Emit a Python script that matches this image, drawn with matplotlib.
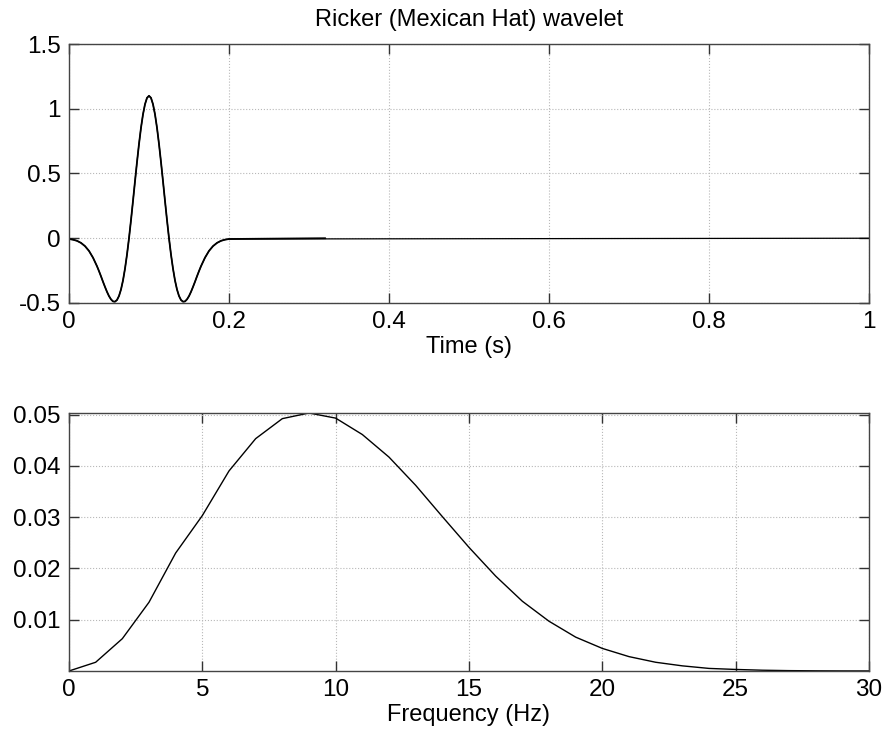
import matplotlib
matplotlib.use("Agg")
import matplotlib.pyplot as plt

plt.rcParams['font.family'] = ['Liberation Sans', 'DejaVu Sans']

# wavelet samples (time in s, amplitude)
wavelet_t = [0.000, 0.005, 0.010, 0.015, 0.020, 0.025, 0.030, 0.035,
             0.0375, 0.040, 0.0425, 0.045, 0.0475, 0.050, 0.0525, 0.055,
             0.0575, 0.060, 0.0625, 0.065, 0.0675, 0.070, 0.0725, 0.075,
             0.0775, 0.080, 0.0825, 0.085, 0.0875, 0.090, 0.0925, 0.095,
             0.0975, 0.100, 0.1025, 0.105, 0.1075, 0.110, 0.1125, 0.115,
             0.1175, 0.120, 0.1225, 0.125, 0.1275, 0.130, 0.1325, 0.135,
             0.1375, 0.140, 0.1425, 0.145, 0.1475, 0.150, 0.1525, 0.155,
             0.1575, 0.160, 0.1625, 0.165, 0.170, 0.175, 0.180, 0.185,
             0.190, 0.195, 0.200]
wavelet_amp = [-0.006, -0.011, -0.020, -0.036, -0.061, -0.098, -0.150, -0.216,
               -0.254, -0.294, -0.336, -0.376, -0.414, -0.447, -0.472, -0.488,
               -0.490, -0.477, -0.446, -0.396, -0.326, -0.235, -0.126, 0.000,
               0.140, 0.288, 0.440, 0.588, 0.728, 0.853, 0.957, 1.035,
               1.084, 1.100, 1.084, 1.035, 0.957, 0.853, 0.728, 0.588,
               0.440, 0.288, 0.140, 0.000, -0.126, -0.235, -0.326, -0.396,
               -0.446, -0.477, -0.490, -0.488, -0.472, -0.447, -0.414, -0.376,
               -0.336, -0.294, -0.254, -0.216, -0.150, -0.098, -0.061, -0.036,
               -0.020, -0.011, -0.006]
wavelet_end = 0.32   # end of the short (darker) copy
trace_end = 1.0      # end of the full trace

# amplitude spectrum
freq_hz = list(range(0, 31))
spectrum = [0.0, 0.0017, 0.0063, 0.0134, 0.0230, 0.0303, 0.0390, 0.0453,
            0.0492, 0.0503, 0.0493, 0.0461, 0.0417, 0.0362, 0.0301, 0.0241,
            0.0185, 0.0136, 0.0097, 0.0066, 0.0044, 0.0028, 0.0017, 0.0010,
            0.0005, 0.0003, 0.00015, 0.00007, 0.00003, 0.00001, 0.000005]

time_ticks = [0, 0.2, 0.4, 0.6, 0.8, 1]
amp_ticks = [-0.5, 0, 0.5, 1, 1.5]
freq_ticks = [0, 5, 10, 15, 20, 25, 30]
spec_ticks = [0.01, 0.02, 0.03, 0.04, 0.05]


def matlab_style(ax):
    ax.grid(True, color='#b8b8b8', linestyle=':', linewidth=0.8)
    ax.tick_params(direction='in', length=7, width=1, top=True, right=True,
                   labelsize=17.5, colors='#333333', labelcolor='black', pad=6)
    for sp in ax.spines.values():
        sp.set_color('#444444')
        sp.set_linewidth(1.0)


fig = plt.figure(figsize=(8.88, 7.35), dpi=100)
ax1 = fig.add_axes([0.0777, 0.5878, 0.9009, 0.3523])
ax2 = fig.add_axes([0.0777, 0.0871, 0.9009, 0.3510])

ax1.plot(wavelet_t + [wavelet_end], wavelet_amp + [0.0], color='black', lw=1.3)
ax1.plot(wavelet_t + [trace_end], wavelet_amp + [0.0], color='black', lw=0.9)
ax1.set_xlim(0, 1)
ax1.set_ylim(-0.5, 1.5)
ax1.set_xticks(time_ticks)
ax1.set_xticklabels(['0', '0.2', '0.4', '0.6', '0.8', '1'])
ax1.set_yticks(amp_ticks)
ax1.set_yticklabels(['-0.5', '0', '0.5', '1', '1.5'])
ax1.set_xlabel('Time (s)', fontsize=17, labelpad=2)
ax1.set_title('Ricker (Mexican Hat) wavelet', fontsize=17, pad=13)
matlab_style(ax1)

ax2.plot(freq_hz, spectrum, color='black', lw=1.0)
ax2.set_xlim(0, 30)
ax2.set_ylim(0, max(spectrum))
ax2.set_xticks(freq_ticks)
ax2.set_yticks(spec_ticks)
ax2.set_yticklabels(['0.01', '0.02', '0.03', '0.04', '0.05'])
ax2.set_xlabel('Frequency (Hz)', fontsize=17, labelpad=2)
matlab_style(ax2)

fig.savefig('out.png', dpi=100)
